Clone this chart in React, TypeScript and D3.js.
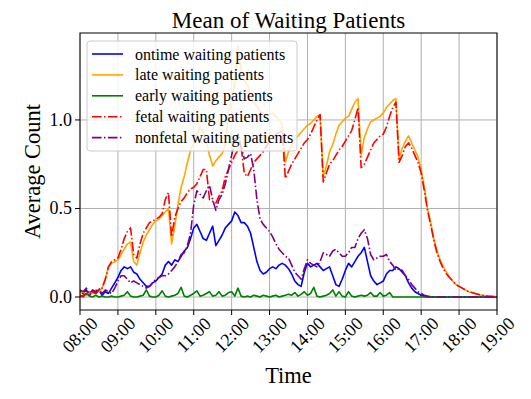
import React from "react";
import * as d3 from "d3";

// sampled every 5 minutes from 08:00 to 19:00
const stepMin = 5;
const hourTicks = ["08:00", "09:00", "10:00", "11:00", "12:00", "13:00", "14:00", "15:00", "16:00", "17:00", "18:00", "19:00"];
const yTicks = [0, 0.5, 1.0];

const seriesNames = [
  "ontime waiting patients",
  "late waiting patients",
  "early waiting patients",
  "fetal waiting patients",
  "nonfetal waiting patients",
];

const ontime = [
  0.03, 0.02, 0.04, 0.01, 0.03, 0.02, 0.04, 0.01, 0.03, 0.02, 0.05, 0.08,
  0.11, 0.15, 0.17, 0.16, 0.17, 0.14, 0.13, 0.1, 0.08, 0.06, 0.06, 0.08,
  0.09, 0.11, 0.13, 0.18, 0.2, 0.18, 0.21, 0.2, 0.23, 0.26, 0.28, 0.33,
  0.39, 0.41, 0.37, 0.33, 0.32, 0.36, 0.4, 0.29, 0.32, 0.35, 0.39, 0.41,
  0.43, 0.48, 0.46, 0.42, 0.42, 0.4, 0.36, 0.28, 0.2, 0.15, 0.13, 0.14,
  0.16, 0.17, 0.16, 0.18, 0.19, 0.18, 0.16, 0.13, 0.09, 0.07, 0.06, 0.14,
  0.19, 0.17, 0.18, 0.19, 0.17, 0.15, 0.16, 0.17, 0.12, 0.07, 0.06, 0.1,
  0.15, 0.19, 0.17, 0.2, 0.23, 0.25, 0.28, 0.2, 0.12, 0.09, 0.07, 0.08,
  0.09, 0.13, 0.15, 0.15, 0.17, 0.16, 0.14, 0.12, 0.08, 0.05, 0.03, 0.02,
  0.01, 0.005, 0, 0, 0, 0, 0, 0, 0, 0, 0, 0,
  0, 0, 0, 0, 0, 0, 0, 0, 0, 0, 0, 0, 0,
];

const late = [
  0.02, 0.03, 0.01, 0.03, 0.02, 0.04, 0.03, 0.05, 0.1, 0.17, 0.19, 0.2,
  0.21, 0.24, 0.27, 0.3, 0.31, 0.2, 0.18, 0.25, 0.31, 0.35, 0.38, 0.41,
  0.43, 0.44, 0.46, 0.48, 0.5, 0.3, 0.4, 0.52, 0.62, 0.68, 0.76, 0.83,
  0.87, 0.92, 0.96, 0.93, 0.88, 0.8, 0.74, 0.77, 0.79, 0.81, 0.86, 1.05,
  1.1, 1.22, 1.42, 1.28, 1.22, 1.2, 1.14, 1.1, 1.08, 1.05, 1.04, 1.02,
  1.03, 1.04, 1.02, 1.0, 0.98, 0.76, 0.82, 0.86, 0.89, 0.91, 0.93, 0.95,
  0.97, 0.98, 1.0, 1.02, 1.03, 0.68, 0.74, 0.82, 0.86, 0.92, 0.97, 0.99,
  1.01, 1.02, 1.06, 1.1, 1.12, 0.8, 0.9, 0.95, 0.99, 1.0, 1.01, 1.02,
  1.04, 1.07, 1.09, 1.11, 1.12, 0.78, 0.84, 0.88, 0.91, 0.87, 0.83, 0.79,
  0.72, 0.62, 0.5, 0.42, 0.33, 0.26, 0.21, 0.17, 0.14, 0.11, 0.09, 0.07,
  0.06, 0.05, 0.04, 0.03, 0.025, 0.02, 0.015, 0.01, 0.008, 0.005, 0.004, 0.002, 0,
];

const early = [
  0, 0.01, 0.02, 0.005, 0, 0.01, 0, 0.005, 0, 0, 0.005, 0,
  0, 0.005, 0.01, 0.03, 0.005, 0, 0, 0.005, 0.01, 0.04, 0.005, 0,
  0, 0.01, 0.035, 0.005, 0, 0.005, 0.01, 0.02, 0.055, 0.005, 0, 0.01,
  0.02, 0.035, 0.005, 0.01, 0.02, 0.03, 0.005, 0.01, 0.03, 0.005, 0.01, 0.025,
  0.03, 0.005, 0.05, 0.005, 0, 0.005, 0, 0.01, 0.005, 0, 0.01, 0.005,
  0, 0.005, 0.01, 0, 0.005, 0.01, 0.015, 0.01, 0.025, 0.005, 0.015, 0.03,
  0.01, 0.02, 0.055, 0.005, 0, 0.005, 0.01, 0.02, 0.04, 0.005, 0.03, 0.005,
  0, 0.03, 0.005, 0, 0.005, 0.01, 0.005, 0.01, 0.025, 0.005, 0.005, 0.025,
  0.005, 0.01, 0.025, 0, 0, 0, 0, 0, 0, 0, 0, 0,
  0, 0, 0, 0, 0, 0, 0, 0, 0, 0, 0, 0,
  0, 0, 0, 0, 0, 0, 0, 0, 0, 0, 0, 0, 0,
];

const fetal = [
  0.01, 0, 0.02, 0.01, 0.03, 0.02, 0.04, 0.05, 0.1, 0.17, 0.2, 0.21,
  0.22, 0.27, 0.33, 0.37, 0.39, 0.24, 0.22, 0.3, 0.36, 0.39, 0.42, 0.43,
  0.44, 0.45, 0.47, 0.55, 0.59, 0.34, 0.45, 0.5, 0.54, 0.56, 0.59, 0.61,
  0.62, 0.64, 0.68, 0.72, 0.72, 0.55, 0.54, 0.53, 0.57, 0.6, 0.68, 0.72,
  0.76, 0.8, 0.83, 0.85, 0.7, 0.68, 0.72, 0.76, 0.78, 0.8, 0.82, 0.85,
  0.88, 0.9, 0.92, 0.93, 0.94, 0.67, 0.71, 0.75, 0.78, 0.81, 0.84, 0.87,
  0.89, 0.92, 0.96, 1.0, 1.03, 0.65, 0.7, 0.75, 0.77, 0.8, 0.83, 0.85,
  0.88, 0.91, 0.94, 1.0, 1.07, 0.73, 0.75, 0.79, 0.83, 0.87, 0.89, 0.91,
  0.92, 0.96, 1.02, 1.07, 1.1, 0.76, 0.8, 0.85, 0.87, 0.84, 0.8, 0.76,
  0.7, 0.6, 0.49, 0.41, 0.32, 0.25, 0.2, 0.16, 0.13, 0.11, 0.09, 0.07,
  0.06, 0.05, 0.04, 0.03, 0.025, 0.02, 0.015, 0.01, 0.008, 0.005, 0.004, 0.002, 0,
];

const nonfetal = [
  0.04, 0.03, 0.05, 0.02, 0.04, 0.03, 0.05, 0.02, 0.04, 0.03, 0.02, 0.05,
  0.09, 0.12, 0.12, 0.1, 0.08, 0.09, 0.08, 0.07, 0.06, 0.05, 0.06, 0.08,
  0.1, 0.11, 0.12, 0.12, 0.13, 0.15, 0.17, 0.2, 0.24, 0.25, 0.29, 0.36,
  0.52, 0.6, 0.58, 0.56, 0.6, 0.63, 0.55, 0.49, 0.55, 0.58, 0.64, 0.72,
  0.8, 0.88, 0.92, 0.85, 0.78, 0.79, 0.81, 0.72, 0.55, 0.44, 0.41, 0.39,
  0.37, 0.34, 0.3, 0.27, 0.25, 0.23, 0.22, 0.18, 0.14, 0.12, 0.1, 0.16,
  0.21, 0.19, 0.18, 0.17, 0.2, 0.25, 0.24, 0.23, 0.26, 0.27, 0.25, 0.23,
  0.23, 0.25, 0.28, 0.28, 0.33, 0.36, 0.38, 0.33, 0.24, 0.21, 0.22, 0.23,
  0.23, 0.24, 0.2, 0.18, 0.15, 0.16, 0.15, 0.12, 0.1, 0.07, 0.05, 0.03,
  0.02, 0.01, 0.005, 0.002, 0, 0, 0, 0, 0, 0, 0, 0,
  0, 0, 0, 0, 0, 0, 0, 0, 0, 0, 0, 0, 0,
];

const colors = ["#0000ff", "#ffa500", "#008000", "#ff0000", "#800080"];
const dashes = [null, null, null, "9.6,2.4,1.5,2.4", "9.6,2.4,1.5,2.4"];
const allSeries = [ontime, late, early, fetal, nonfetal];

const W = 531;
const H = 399;
const M = { left: 80, right: 497, top: 33, bottom: 310 };
const serif = "'Liberation Serif', 'Times New Roman', serif";

export default function App() {
  const x = d3.scaleLinear().domain([0, (hourTicks.length - 1) * 60]).range([M.left, M.right]);
  const y = d3.scaleLinear().domain([-0.0734, 1.491]).range([M.bottom, M.top]);
  const line = d3
    .line<number>()
    .x((_, i) => x(i * stepMin))
    .y((d) => y(d));

  const legendX = 87;
  const legendY = 41;
  const rowH = 20.9;

  return (
    <div style={{ position: "fixed", left: 0, top: 0 }}>
      <svg width={W} height={H} style={{ display: "block", background: "#fff" }}>
        <defs>
          <clipPath id="plot">
            <rect x={M.left} y={M.top} width={M.right - M.left} height={M.bottom - M.top} />
          </clipPath>
        </defs>

        {/* grid */}
        <g stroke="#b0b0b0" strokeWidth={1}>
          {hourTicks.map((_, i) => (
            <line key={i} x1={x(i * 60)} x2={x(i * 60)} y1={M.top} y2={M.bottom} />
          ))}
          {yTicks.map((t) => (
            <line key={t} x1={M.left} x2={M.right} y1={y(t)} y2={y(t)} />
          ))}
        </g>

        {/* series */}
        <g clipPath="url(#plot)" fill="none">
          {allSeries.map((s, k) => (
            <path
              key={k}
              d={line(s) || ""}
              stroke={colors[k]}
              strokeWidth={1.6}
              strokeDasharray={dashes[k] || undefined}
              strokeLinejoin="round"
            />
          ))}
        </g>

        {/* frame */}
        <rect
          x={M.left}
          y={M.top}
          width={M.right - M.left}
          height={M.bottom - M.top}
          fill="none"
          stroke="#000"
          strokeWidth={1}
        />

        {/* axes */}
        <g fontFamily={serif} fontSize={18}>
          {hourTicks.map((lab, i) => {
            const px = x(i * 60);
            return (
              <g key={lab}>
                <line x1={px} x2={px} y1={M.bottom} y2={M.bottom + 5} stroke="#000" />
                <text
                  transform={`translate(${px},${M.bottom + 25}) rotate(-45)`}
                  textAnchor="middle"
                  dominantBaseline="central"
                >
                  {lab}
                </text>
              </g>
            );
          })}
          {yTicks.map((t) => (
            <g key={t}>
              <line x1={M.left - 5} x2={M.left} y1={y(t)} y2={y(t)} stroke="#000" />
              <text x={M.left - 8} y={y(t)} textAnchor="end" dominantBaseline="central">
                {d3.format(".1f")(t)}
              </text>
            </g>
          ))}
        </g>

        {/* titles */}
        <text x={(M.left + M.right) / 2} y={28} textAnchor="middle" fontFamily={serif} fontSize={23}>
          Mean of Waiting Patients
        </text>
        <text x={(M.left + M.right) / 2} y={383} textAnchor="middle" fontFamily={serif} fontSize={22.5}>
          Time
        </text>
        <text
          transform={`translate(40,${(M.top + M.bottom) / 2}) rotate(-90)`}
          textAnchor="middle"
          fontFamily={serif}
          fontSize={22.5}
        >
          Average Count
        </text>

        {/* legend */}
        <g>
          <rect
            x={legendX}
            y={legendY}
            width={210}
            height={110}
            rx={3}
            fill="#fff"
            fillOpacity={0.8}
            stroke="#cccccc"
            strokeWidth={1}
          />
          {seriesNames.map((name, k) => {
            const ly = legendY + 13 + k * rowH;
            return (
              <g key={name}>
                <line
                  x1={92}
                  x2={123}
                  y1={ly}
                  y2={ly}
                  stroke={colors[k]}
                  strokeWidth={1.6}
                  strokeDasharray={dashes[k] || undefined}
                />
                <text x={135} y={ly} dominantBaseline="central" fontFamily={serif} fontSize={16}>
                  {name}
                </text>
              </g>
            );
          })}
        </g>
      </svg>
    </div>
  );
}
